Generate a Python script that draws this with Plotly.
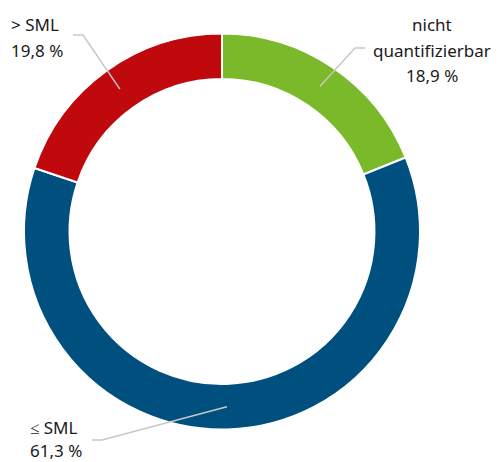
import math
import plotly.graph_objects as go

labels = ["nicht quantifizierbar", "≤ SML", "> SML"]
values = [18.9, 61.3, 19.8]
colors = ["#7ab929", "#00507f", "#c0090d"]
label_lines = [["nicht", "quantifizierbar", "18,9 %"], ["≤ SML", "61,3 %"], ["> SML", "19,8 %"]]

OFF = 8  # page body margin
W, H = 501 - OFF, 462 - OFF
cx, cy, R = 222 - OFF, 231.5 - OFF, 198
hole = 0.77

fig = go.Figure(go.Pie(
    labels=labels, values=values, sort=False, direction="clockwise", rotation=0,
    hole=hole, marker=dict(colors=colors, line=dict(color="white", width=2)),
    textinfo="none", hoverinfo="label+percent", showlegend=False,
    domain=dict(x=[(cx - R) / W, (cx + R) / W], y=[(H - cy - R) / H, (H - cy + R) / H]),
))

def px(x):
    return (x - OFF) / W

def py(y):
    return 1 - (y - OFF) / H

# label placement (pixel anchors in window coords) and leader-line elbows
label_cfg = [
    dict(x=432, ys=[25, 50, 75.5], xanchor="center", elbow=[(365, 48), (355, 48)]),
    dict(x=29, ys=[427, 450.5], xanchor="left", elbow=[(92, 440), (102, 440)]),
    dict(x=10, ys=[24.5, 50], xanchor="left", elbow=[(73, 35), (83, 35)]),
]

total = sum(values)
cum = 0
rmid = R * (1 + hole) / 2
for v, lines, cfg in zip(values, label_lines, label_cfg):
    mid = (cum + v / 2) / total * 2 * math.pi
    cum += v
    ex = cx + OFF + rmid * math.sin(mid)
    ey = cy + OFF - rmid * math.cos(mid)
    (x0, y0), (x1, y1) = cfg["elbow"]
    path = f"M {px(x0)} {py(y0)} L {px(x1)} {py(y1)} L {px(ex)} {py(ey)}"
    fig.add_shape(type="path", xref="paper", yref="paper", path=path,
                  line=dict(color="#c8c8c8", width=1.5))
    for t, yy in zip(lines, cfg["ys"]):
        fig.add_annotation(x=px(cfg["x"]), y=py(yy), xref="paper", yref="paper",
                           text=t, showarrow=False, xanchor=cfg["xanchor"], yanchor="middle",
                           borderpad=0, font=dict(family="Noto Sans", size=17, color="#1a1a1a"))

fig.update_layout(width=W, height=H, margin=dict(l=0, r=0, t=0, b=0),
                  paper_bgcolor="white", plot_bgcolor="white")
fig.write_html("out.html")
